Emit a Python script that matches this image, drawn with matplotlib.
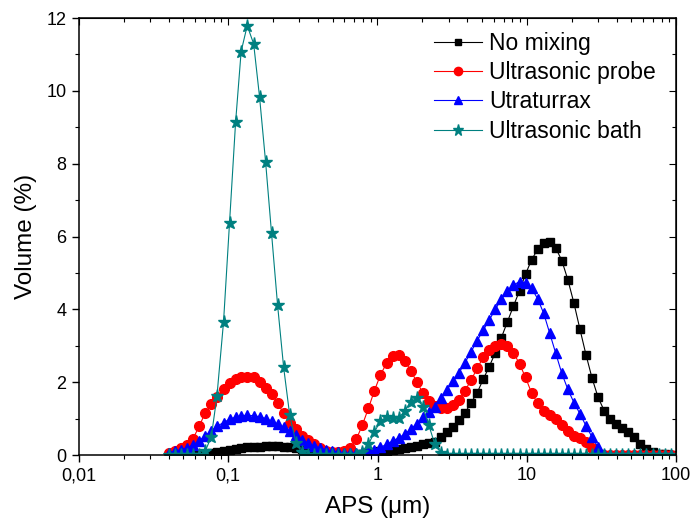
import matplotlib
matplotlib.use("Agg")
import matplotlib.pyplot as plt
from matplotlib.ticker import FixedLocator, FixedFormatter, LogLocator, NullFormatter, MultipleLocator

plt.rcParams['font.family'] = ['Liberation Sans', 'DejaVu Sans']

# Particle size channels (µm)
sizes = [0.040, 0.044, 0.048, 0.053, 0.058, 0.064, 0.070, 0.077, 0.084, 0.093,
         0.102, 0.112, 0.122, 0.134, 0.148, 0.162, 0.178, 0.195, 0.214, 0.235,
         0.258, 0.284, 0.311, 0.342, 0.375, 0.412, 0.452, 0.496, 0.545, 0.598,
         0.657, 0.721, 0.791, 0.869, 0.954, 1.047, 1.149, 1.261, 1.385, 1.520,
         1.669, 1.832, 2.011, 2.207, 2.423, 2.660, 2.920, 3.206, 3.519, 3.862,
         4.241, 4.655, 5.110, 5.610, 6.158, 6.760, 7.421, 8.147, 8.943, 9.817,
         10.78, 11.83, 12.99, 14.26, 15.65, 17.18, 18.86, 20.71, 22.73, 24.95,
         27.39, 30.07, 33.01, 36.24, 39.78, 43.67, 47.94, 52.62, 57.77, 63.41,
         69.61, 76.42, 83.89, 92.09]

no_mixing = [0, 0, 0, 0, 0, 0, 0.02, 0.05, 0.08, 0.11,
             0.14, 0.17, 0.19, 0.21, 0.22, 0.23, 0.24, 0.24, 0.24, 0.23,
             0.22, 0.20, 0.17, 0.14, 0.11, 0.08, 0.06, 0.04, 0.03, 0.02,
             0.02, 0.03, 0.04, 0.06, 0.08, 0.10, 0.12, 0.14, 0.17, 0.20,
             0.23, 0.26, 0.29, 0.32, 0.37, 0.50, 0.64, 0.78, 0.96, 1.16,
             1.44, 1.71, 2.08, 2.43, 2.81, 3.22, 3.66, 4.09, 4.51, 4.97,
             5.36, 5.65, 5.83, 5.86, 5.68, 5.34, 4.81, 4.17, 3.45, 2.75,
             2.11, 1.58, 1.22, 0.98, 0.85, 0.73, 0.62, 0.49, 0.30, 0.16,
             0.09, 0.04, 0.02, 0.01]

ultrasonic_probe = [0.06, 0.12, 0.18, 0.27, 0.44, 0.80, 1.15, 1.39, 1.60, 1.80,
                    1.99, 2.09, 2.13, 2.15, 2.13, 2.01, 1.83, 1.67, 1.42, 1.15,
                    0.89, 0.72, 0.52, 0.40, 0.30, 0.20, 0.12, 0.08, 0.07, 0.10,
                    0.20, 0.43, 0.82, 1.28, 1.77, 2.20, 2.52, 2.72, 2.75, 2.59,
                    2.32, 2.01, 1.71, 1.48, 1.34, 1.28, 1.28, 1.37, 1.51, 1.77,
                    2.06, 2.38, 2.68, 2.87, 2.99, 3.04, 2.99, 2.81, 2.50, 2.13,
                    1.70, 1.42, 1.22, 1.10, 0.98, 0.82, 0.66, 0.52, 0.47, 0.37,
                    0.18, 0.05, 0.01, 0, 0, 0, 0, 0, 0, 0,
                    0, 0, 0, 0]

utraturrax = [0.06, 0.10, 0.15, 0.20, 0.27, 0.39, 0.53, 0.66, 0.79, 0.89,
              0.98, 1.04, 1.08, 1.09, 1.08, 1.05, 1.00, 0.93, 0.85, 0.76,
              0.66, 0.55, 0.42, 0.32, 0.24, 0.18, 0.13, 0.10, 0.08, 0.06,
              0.05, 0.05, 0.07, 0.10, 0.15, 0.21, 0.29, 0.38, 0.47, 0.57,
              0.71, 0.86, 1.03, 1.18, 1.33, 1.56, 1.79, 2.04, 2.26, 2.54,
              2.84, 3.14, 3.43, 3.71, 4.00, 4.28, 4.51, 4.67, 4.76, 4.73,
              4.58, 4.29, 3.89, 3.34, 2.79, 2.24, 1.80, 1.44, 1.13, 0.80,
              0.49, 0.21, 0.03, 0, 0, 0, 0, 0, 0, 0,
              0, 0, 0, 0]

ultrasonic_bath = [0, 0, 0, 0, 0, 0, 0.10, 0.50, 1.62, 3.66,
                   6.38, 9.14, 11.08, 11.79, 11.29, 9.84, 8.04, 6.09, 4.12, 2.41,
                   1.10, 0.34, 0.07, 0, 0, 0, 0, 0, 0, 0,
                   0, 0, 0.09, 0.29, 0.63, 0.94, 1.04, 1.01, 1.01, 1.21,
                   1.46, 1.57, 1.33, 0.82, 0.29, 0.06, 0, 0, 0, 0,
                   0, 0, 0, 0, 0, 0, 0, 0, 0, 0,
                   0, 0, 0, 0, 0, 0, 0, 0, 0, 0,
                   0, 0, 0, 0, 0, 0, 0, 0, 0, 0,
                   0, 0, 0, 0]

x_ticks = [0.01, 0.1, 1, 10, 100]
x_tick_labels = ["0,01", "0,1", "1", "10", "100"]
y_ticks = [0, 2, 4, 6, 8, 10, 12]

fig = plt.figure(figsize=(6.92, 5.28), dpi=100)
ax = fig.add_axes([79 / 692, (528 - 455) / 528, (676 - 79) / 692, (455 - 18) / 528])

lw = 0.8
ax.plot(sizes, no_mixing, color='black', marker='s', ms=5.5, lw=lw, label='No mixing')
ax.plot(sizes, ultrasonic_probe, color='#ff0000', marker='o', ms=7, lw=lw, label='Ultrasonic probe')
ax.plot(sizes, utraturrax, color='#0000ff', marker='^', ms=7.5, lw=lw, label='Utraturrax')
ax.plot(sizes, ultrasonic_bath, color='#008080', marker='*', ms=9.5, lw=lw, label='Ultrasonic bath')

ax.set_xscale('log')
ax.set_xlim(0.01, 100)
ax.set_ylim(0, 12)

ax.xaxis.set_major_locator(FixedLocator(x_ticks))
ax.xaxis.set_major_formatter(FixedFormatter(x_tick_labels))
ax.xaxis.set_minor_locator(LogLocator(base=10, subs=range(2, 10)))
ax.xaxis.set_minor_formatter(NullFormatter())
ax.yaxis.set_major_locator(FixedLocator(y_ticks))
ax.yaxis.set_minor_locator(MultipleLocator(1))

for s in ax.spines.values():
    s.set_linewidth(1.1)

ax.tick_params(axis='both', which='major', direction='out', length=5, width=1.0,
               labelsize=13, pad=4)
ax.tick_params(axis='both', which='minor', direction='out', length=3, width=0.8)

# mirrored inward ticks on the top and right frame
ax_top = ax.secondary_xaxis('top')
ax_top.set_xticks(x_ticks)
ax_top.xaxis.set_minor_locator(LogLocator(base=10, subs=range(2, 10)))
ax_top.tick_params(which='both', direction='in', labeltop=False, width=0.8)
ax_top.tick_params(which='major', length=5)
ax_top.tick_params(which='minor', length=3)
ax_top.xaxis.set_minor_formatter(NullFormatter())
ax_right = ax.secondary_yaxis('right')
ax_right.set_yticks(y_ticks)
ax_right.yaxis.set_minor_locator(MultipleLocator(1))
ax_right.tick_params(which='both', direction='in', labelright=False, width=0.8)
ax_right.tick_params(which='major', length=5)
ax_right.tick_params(which='minor', length=3)

ax.set_xlabel('APS (μm)', fontsize=17.5, labelpad=8)
ax.set_ylabel('Volume (%)', fontsize=17.5, labelpad=7)

ax.legend(loc='upper left', bbox_to_anchor=(434 / 692, 1 - 32 / 528),
          bbox_transform=fig.transFigure, frameon=False, fontsize=16.5,
          handlelength=2.1, handletextpad=0.3, labelspacing=0.27,
          borderpad=0, borderaxespad=0, markerscale=0.85)

fig.savefig('out.png', dpi=100)
